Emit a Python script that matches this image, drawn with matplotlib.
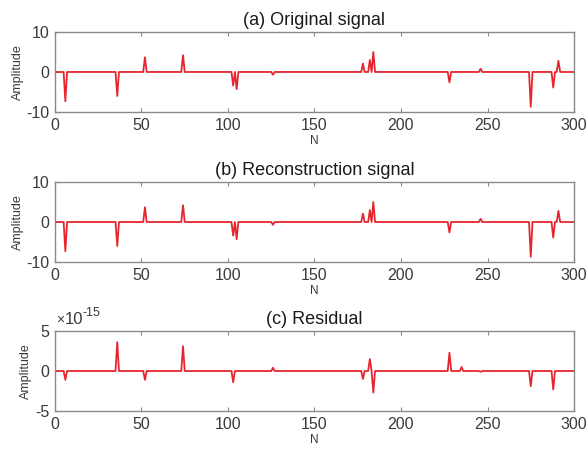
import numpy as np
import matplotlib
matplotlib.use("Agg")
import matplotlib.pyplot as plt
from matplotlib.ticker import FuncFormatter

plt.rcParams["font.family"] = ["Liberation Sans", "DejaVu Sans"]
plt.rcParams["axes.unicode_minus"] = False

# Sparse test signal: sample index -> amplitude
n_samples = 300
spike_pos = [6, 36, 52, 74, 103, 105, 126, 178, 182, 184, 228, 246, 275, 288, 291]
orig_vals = [-7.3, -6.0, 3.7, 4.2, -3.4, -4.3, -0.7, 2.1, 3.0, 5.0, -2.6, 0.8, -8.7, -3.9, 2.8]
recon_vals = [-7.3, -6.0, 3.7, 4.2, -3.4, -4.3, -0.7, 2.1, 3.0, 5.0, -2.6, 0.8, -8.7, -3.9, 2.8]

# Residual between original and reconstruction (units of 1e-15)
resid_pos = [6, 36, 52, 74, 103, 126, 178, 182, 184, 228, 235, 246, 275, 288]
resid_vals = [-1.1, 3.6, -1.1, 3.1, -1.4, 0.4, -1.0, 1.5, -2.7, 2.3, 0.5, -0.1, -1.9, -2.3]
resid_exp = -15

titles = ["(a) Original signal", "(b) Reconstruction signal", "(c) Residual"]


def sparse_series(pos, vals, scale=1.0):
    y = np.zeros(n_samples + 1)
    for p, v in zip(pos, vals):
        y[p] = v * scale
    return y


n = np.arange(n_samples + 1)
scale_c = 10.0 ** resid_exp
series = [
    sparse_series(spike_pos, orig_vals),
    sparse_series(spike_pos, recon_vals),
    sparse_series(resid_pos, resid_vals, scale_c),
]
ylims = [(-10, 10), (-10, 10), (-5 * scale_c, 5 * scale_c)]
yticks = [[-10, 0, 10], [-10, 0, 10], [-5 * scale_c, 0, 5 * scale_c]]

fig = plt.figure(figsize=(5.88, 4.53), dpi=100)
bottoms = [0.7528, 0.4216, 0.0927]
line_color = "#e6262f"
axis_color = "#8a8a8a"
text_color = "#3a3a3a"

for i in range(3):
    ax = fig.add_axes([0.0935, bottoms[i], 0.8827, 0.1766])
    ax.plot(n, series[i], color=line_color, linewidth=1.3)
    ax.set_xlim(0, 300)
    ax.set_ylim(*ylims[i])
    ax.set_xticks([0, 50, 100, 150, 200, 250, 300])
    ax.set_yticks(yticks[i])
    ax.tick_params(direction="in", top=True, right=False, length=3,
                   color=axis_color, labelcolor=text_color, labelsize=11.5, pad=4)
    for s in ax.spines.values():
        s.set_color(axis_color)
        s.set_linewidth(1.0)
    ax.set_title(titles[i], fontsize=13, color="#1a1a1a", pad=5)
    ax.set_xlabel("N", fontsize=8.5, color=text_color, labelpad=2)
    ax.set_ylabel("Amplitude", fontsize=9, color=text_color, labelpad=2)
    if i == 2:
        ax.yaxis.set_major_formatter(
            FuncFormatter(lambda v, _: "%d" % round(v / scale_c)))
        times = ax.annotate("\u00d7", xy=(0, 1), xycoords="axes fraction",
                            xytext=(1, 3), textcoords="offset points",
                            fontsize=10, color=text_color, va="bottom", ha="left")
        base = ax.annotate("10", xy=(1, 0), xycoords=times,
                           fontsize=12, color=text_color, va="bottom", ha="left")
        ax.annotate(str(resid_exp), xy=(1, 0.5), xycoords=base,
                    fontsize=9, color=text_color, va="bottom", ha="left")

fig.savefig("out.png", dpi=100)
